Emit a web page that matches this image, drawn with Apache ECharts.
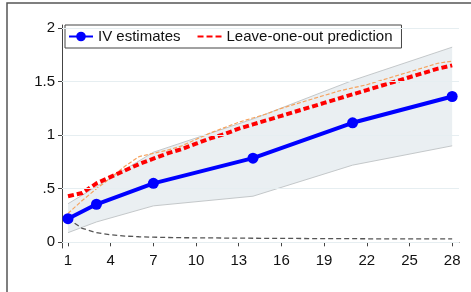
<!DOCTYPE html>
<html>
<head>
<meta charset="utf-8">
<script src="https://cdn.jsdelivr.net/npm/echarts@6/dist/echarts.min.js"></script>
<style>
  html, body { margin: 0; padding: 0; background: #fff; }
  #main { width: 471px; height: 292px; }
</style>
</head>
<body>
<div id="main"></div>
<script>
// horizon (x) and values
const ivX = [1, 3, 7, 14, 21, 28];
const ivEst = [0.22, 0.355, 0.55, 0.785, 1.115, 1.36];
const ciLow = [0.09, 0.19, 0.34, 0.43, 0.72, 0.90];
const ciHigh = [0.36, 0.52, 0.84, 1.15, 1.51, 1.82];

const days = [1,2,3,4,5,6,7,8,9,10,11,12,13,14,15,16,17,18,19,20,21,22,23,24,25,26,27,28];
// leave-one-out prediction (red)
const looPred = [0.43,0.46,0.55,0.61,0.67,0.73,0.78,0.83,0.87,0.92,0.97,1.01,1.06,1.10,
                 1.14,1.18,1.22,1.26,1.30,1.34,1.38,1.42,1.46,1.50,1.54,1.58,1.62,1.65];
// thin orange dashed
const orangeLine = [0.27,0.39,0.50,0.60,0.71,0.80,0.83,0.86,0.90,0.96,1.02,1.07,1.12,1.16,
                    1.20,1.25,1.29,1.33,1.37,1.41,1.44,1.47,1.51,1.55,1.59,1.63,1.67,1.69];
// thin gray dashed
const grayLine = [0.22,0.13,0.09,0.07,0.058,0.052,0.048,0.045,0.043,0.042,0.041,0.04,0.039,0.038,
                  0.037,0.036,0.036,0.035,0.035,0.034,0.034,0.033,0.033,0.033,0.032,0.032,0.032,0.032];

const yTicks = [0, 0.5, 1, 1.5, 2];
const xTicks = [1, 4, 7, 10, 13, 16, 19, 22, 25, 28];

const pairs = (xs, ys) => xs.map((x, i) => [x, ys[i]]);

const chart = echarts.init(document.getElementById('main'));

const font = 'Liberation Sans, Arial, sans-serif';

// confidence band as one polygon, through the axes
function renderBand(params, api) {
  if (params.dataIndex !== 0) return;
  const top = ivX.map((x, i) => api.coord([x, ciHigh[i]]));
  const bot = ivX.map((x, i) => api.coord([x, ciLow[i]])).reverse();
  return {
    type: 'group',
    children: [
      { type: 'polygon', shape: { points: top.concat(bot) },
        style: { fill: '#eaeff2', stroke: null } },
      { type: 'polyline', shape: { points: top },
        style: { fill: null, stroke: '#c4c8ca', lineWidth: 1 } },
      { type: 'polyline', shape: { points: bot },
        style: { fill: null, stroke: '#c4c8ca', lineWidth: 1 } }
    ]
  };
}

chart.setOption({
  animation: false,
  backgroundColor: '#fff',
  grid: { left: 62, right: 12, top: 25, bottom: 44 },
  graphic: [{
    type: 'rect',
    shape: { x: 7, y: 3, width: 600, height: 400 },
    style: { fill: 'none', stroke: '#555', lineWidth: 1.5 },
    z: -1
  }],
  legend: {
    left: 65, top: 25,
    data: [
      { name: 'IV estimates' },
      { name: 'Leave-one-out prediction', itemStyle: { opacity: 0 } }
    ],
    backgroundColor: '#fff',
    borderColor: '#444', borderWidth: 1,
    padding: [4, 9, 4, 3],
    itemWidth: 24, itemHeight: 12, itemGap: 16,
    textStyle: { fontSize: 15, color: '#111', fontFamily: font }
  },
  xAxis: {
    type: 'value', min: 0.578, max: 28.48,
    axisLine: { show: true, lineStyle: { color: '#444', width: 1 } },
    axisTick: { show: true, length: 4, customValues: xTicks, lineStyle: { color: '#444' } },
    axisLabel: { customValues: xTicks, fontSize: 15, color: '#111', fontFamily: font, margin: 5 },
    splitLine: { show: false }
  },
  yAxis: {
    type: 'value', min: -0.053, max: 2.027,
    axisLine: { show: true, lineStyle: { color: '#444', width: 1 } },
    axisTick: { show: true, length: 4, customValues: yTicks, lineStyle: { color: '#444' } },
    axisLabel: {
      customValues: yTicks, fontSize: 15, color: '#111', fontFamily: font, margin: 7,
      formatter: v => String(v).replace(/^0\./, '.')
    },
    splitLine: { show: false }
  },
  series: [
    {
      name: 'grid', type: 'line', data: [], z: 1, silent: true,
      markLine: {
        silent: true, symbol: 'none', label: { show: false },
        lineStyle: { color: '#e6eef1', width: 1.2, type: 'solid' },
        data: yTicks.map(v => ({ yAxis: v }))
      }
    },
    {
      name: 'band', type: 'custom', z: 2, silent: true,
      data: pairs(ivX, ciHigh),
      renderItem: renderBand
    },
    {
      name: 'gray', type: 'line', z: 3, data: pairs(days, grayLine), symbol: 'none',
      lineStyle: { color: '#555', width: 1.3, type: [5, 3] }
    },
    {
      name: 'orange', type: 'line', z: 3, data: pairs(days, orangeLine), symbol: 'none',
      lineStyle: { color: '#f6a35e', width: 1.2, type: [4, 2] }
    },
    {
      name: 'Leave-one-out prediction', type: 'line', z: 4, data: pairs(days, looPred),
      symbol: 'none', itemStyle: { color: '#ff0000' },
      lineStyle: { color: '#ff0000', width: 4, type: [6, 3] }
    },
    {
      name: 'IV estimates', type: 'line', z: 5, data: pairs(ivX, ivEst),
      symbol: 'circle', symbolSize: 11, itemStyle: { color: '#0000ff' },
      lineStyle: { color: '#0000ff', width: 4 }
    }
  ]
});
</script>
</body>
</html>
